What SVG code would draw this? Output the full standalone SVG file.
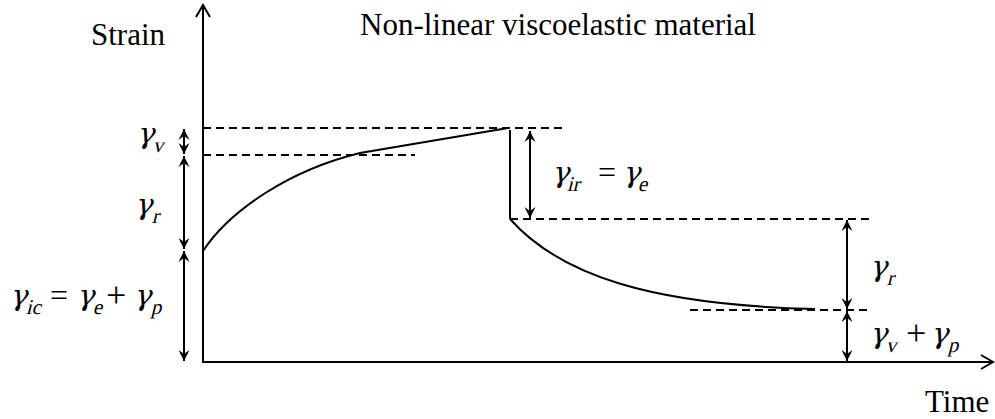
<svg xmlns="http://www.w3.org/2000/svg" width="995" height="419" viewBox="0 0 995 419">
<style>
.ln{fill:none;stroke:#000;stroke-width:2}
.ds{fill:none;stroke:#000;stroke-width:2;stroke-dasharray:8,5}
.dim{fill:none;stroke:#000;stroke-width:2;marker-start:url(#ah);marker-end:url(#ah)}
text{font-family:"Liberation Serif","DejaVu Serif",serif;fill:#000}
.t{font-size:31px}
.g{font-size:29px;font-family:"DejaVu Serif","Liberation Serif",serif}
.s{font-size:21px;font-family:"Liberation Serif","DejaVu Serif",serif}
.op{font-size:32px}
.pl{font-size:36px}
</style>
<defs>
<marker id="ah" viewBox="-12 -6 13 12" markerWidth="13" markerHeight="12" refX="0" refY="0" orient="auto-start-reverse" markerUnits="userSpaceOnUse">
<path d="M0,0 L-11,-5.5 L-7,0 L-11,5.5 Z" fill="#000"/>
</marker>
</defs>
<rect width="995" height="419" fill="#fff"/>
<g id="axes">
<path class="ln" d="M203,5 V362 H993"/>
<path class="ln" d="M196,17 L203,5 L210,17"/>
<path class="ln" d="M981,355 L993,362 L981,369"/>
</g>
<g id="guides">
<path class="ds" d="M203,128 H565"/>
<path class="ds" d="M203,155 H415"/>
<path class="ds" d="M510,219 H870"/>
<path class="ds" d="M690,310 H870"/>
</g>
<g id="curve">
<path class="ln" d="M203,251 C230,210 290,170 360,153 L508,128"/>
<path class="ln" d="M510,130 V219"/>
<path class="ln" d="M510,219 C560,275 650,305 815,309"/>
</g>
<g id="connectors">
<path class="dim" d="M184,129 V154"/>
<path class="dim" d="M184,156 V249"/>
<path class="dim" d="M184,251 V361"/>
<path class="dim" d="M530,131 V218"/>
<path class="dim" d="M847,220 V309"/>
<path class="dim" d="M847,311 V361"/>
</g>
<g id="titles">
<text class="t" x="360" y="35">Non-linear viscoelastic material</text>
<text class="t" x="91" y="45">Strain</text>
<text class="t" x="925" y="412">Time</text>
</g>
<g id="label-gv">
<text class="g" transform="translate(137,143) skewX(-14)">γ<tspan class="s" x="18" y="9">v</tspan></text>
</g>
<g id="label-gr-left">
<text class="g" transform="translate(135,214) skewX(-14)">γ<tspan class="s" x="19" y="9">r</tspan></text>
</g>
<g id="label-gic">
<text class="g" transform="translate(10,305) skewX(-14)">γ<tspan class="s" x="18" y="9">ic</tspan></text>
<text class="op" x="50" y="306">=</text>
<text class="g" transform="translate(77,305) skewX(-14)">γ<tspan class="s" x="18" y="9">e</tspan></text>
<text class="pl" x="106" y="307">+</text>
<text class="g" transform="translate(134,305) skewX(-14)">γ<tspan class="s" x="19" y="9">p</tspan></text>
</g>
<g id="label-gir">
<text class="g" transform="translate(552,182) skewX(-14)">γ<tspan class="s" x="17" y="9">ir</tspan></text>
<text class="op" x="598" y="183">=</text>
<text class="g" transform="translate(623,182) skewX(-14)">γ<tspan class="s" x="17" y="9">e</tspan></text>
</g>
<g id="label-gr-right">
<text class="g" transform="translate(870,276) skewX(-14)">γ<tspan class="s" x="19" y="9">r</tspan></text>
</g>
<g id="label-gvp">
<text class="g" transform="translate(870,343) skewX(-14)">γ<tspan class="s" x="18" y="9">v</tspan></text>
<text class="pl" x="906" y="345">+</text>
<text class="g" transform="translate(931,343) skewX(-14)">γ<tspan class="s" x="19" y="9">p</tspan></text>
</g>
</svg>
